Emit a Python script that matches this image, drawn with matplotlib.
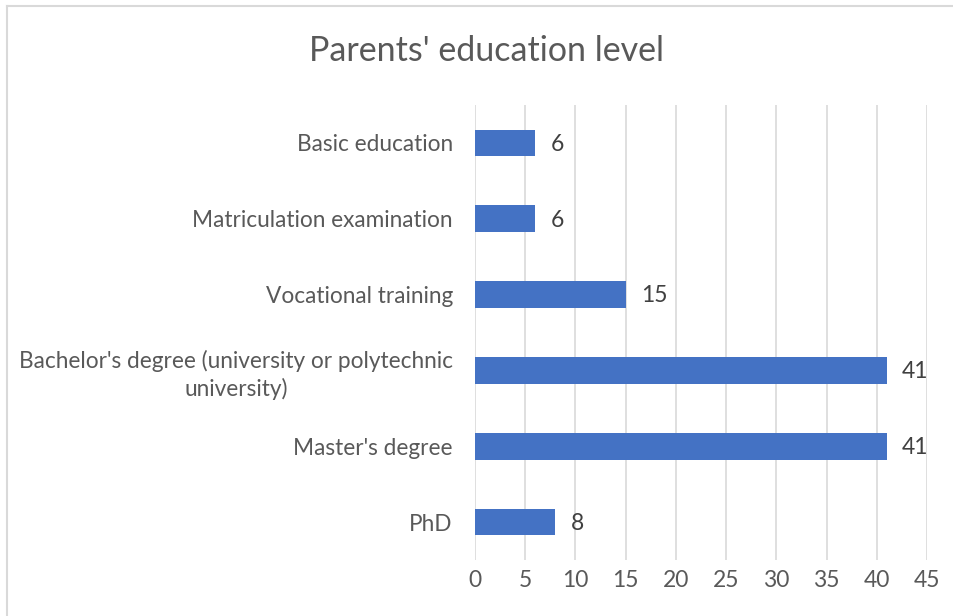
import matplotlib.pyplot as plt
from matplotlib.lines import Line2D

# Daten
categories = ["Basic education", "Matriculation examination", "Vocational training",
              "Bachelor's degree (university or polytechnic\nuniversity)", "Master's degree", "PhD"]
values = [6, 6, 15, 41, 41, 8]
xticks = [0, 5, 10, 15, 20, 25, 30, 35, 40, 45]

plt.rcParams['font.family'] = ['Lato', 'DejaVu Sans']

fig = plt.figure(figsize=(9.54, 6.16), dpi=100)
ax = fig.add_axes([475 / 954, 1 - 560 / 616, 452 / 954, 455 / 616])

pos = list(range(len(categories)))
ax.barh(pos, values, height=0.35, color='#4472C4', zorder=3)
for p, v in zip(pos, values):
    ax.annotate(str(v), (v, p), xytext=(11, -1), textcoords='offset points',
                ha='left', va='center', fontsize=16.5, color='#404040')

ax.set_ylim(len(categories) - 0.5, -0.5)
ax.set_xlim(0, 45)
ax.set_yticks(pos)
ax.set_yticklabels(categories, fontsize=16.3, color='#595959', linespacing=1.3)
for lab in ax.get_yticklabels():
    lab.set_multialignment('center')
ax.set_xticks(xticks)
ax.set_xticklabels([str(t) for t in xticks], fontsize=16.5, color='#595959')
ax.tick_params(axis='y', length=0, pad=16)
ax.tick_params(axis='x', length=0, pad=7)
ax.grid(axis='x', color='#d9d9d9', linewidth=1.2, zorder=0)
for s in ax.spines.values():
    s.set_visible(False)

fig.text(487 / 954, 1 - 51 / 616, "Parents' education level", ha='center', va='center',
         fontsize=24.5, color='#595959')

# Rahmen des Diagramms
fig.add_artist(Line2D([7 / 954, 7 / 954], [0, 1 - 6 / 616], color='#d9d9d9', linewidth=1.5))
fig.add_artist(Line2D([7 / 954, 1], [1 - 6 / 616, 1 - 6 / 616], color='#d9d9d9', linewidth=1.5))

plt.savefig('out.png', dpi=100)
